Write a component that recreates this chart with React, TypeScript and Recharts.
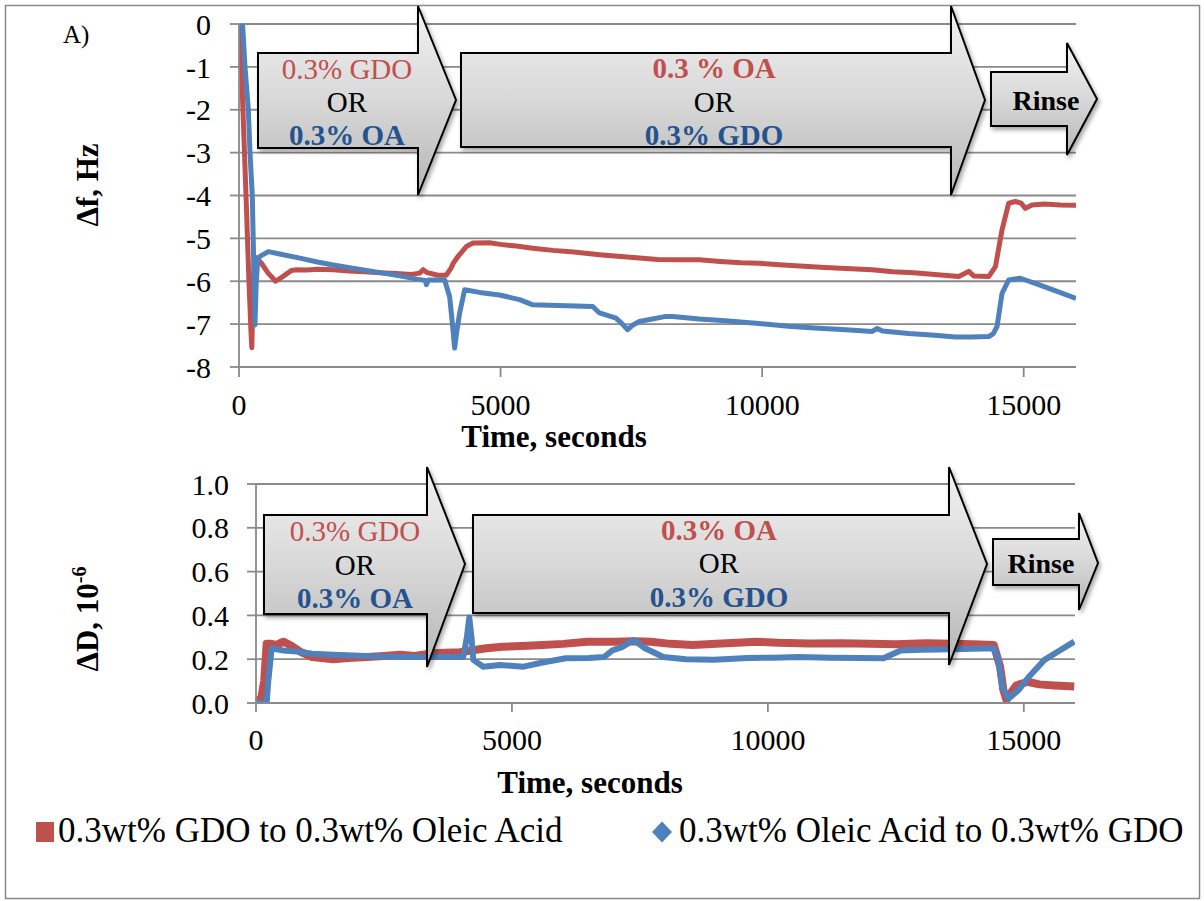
import React from "react";
import { LineChart, Line, XAxis, YAxis, CartesianGrid } from "recharts";

const FONT = "Times New Roman";
const RED = "#c0504d";
const BLUE = "#4f81bd";
const RED_TEXT = "#c0504d";
const BLUE_TEXT = "#24538f";
const GRID = "#8a8a8a";

// ---------- Top panel: Δf (Hz) ----------
const topXTicks = [0, 5000, 10000, 15000];
const topYTicks = [0, -1, -2, -3, -4, -5, -6, -7, -8];

const topRedTime = [0, 40, 90, 140, 190, 230, 245, 265, 290, 330, 430, 550, 700, 850, 1000, 1100, 1300, 1500, 1800, 2100, 2400, 2700, 3000, 3300, 3454, 3520, 3600, 3800, 3960, 4050, 4100, 4200, 4345, 4472, 4790, 5000, 5300, 5617, 6000, 6400, 6890, 7300, 7653, 8000, 8400, 8798, 9200, 9600, 9943, 10400, 10800, 11200, 11600, 12105, 12500, 12900, 13300, 13760, 13950, 14050, 14332, 14460, 14586, 14714, 14841, 14950, 15032, 15159, 15400, 15700, 16000];
const topRedValue = [0, -0.8, -2.5, -4.2, -6.0, -7.2, -7.55, -6.5, -5.6, -5.45, -5.58, -5.8, -6.0, -5.88, -5.75, -5.73, -5.74, -5.72, -5.73, -5.76, -5.78, -5.8, -5.82, -5.84, -5.81, -5.73, -5.8, -5.86, -5.86, -5.7, -5.57, -5.4, -5.19, -5.11, -5.1, -5.14, -5.18, -5.23, -5.28, -5.32, -5.38, -5.42, -5.46, -5.49, -5.5, -5.5, -5.54, -5.57, -5.58, -5.62, -5.65, -5.68, -5.7, -5.73, -5.78, -5.8, -5.84, -5.89, -5.77, -5.88, -5.89, -5.66, -4.8, -4.18, -4.14, -4.18, -4.3, -4.22, -4.2, -4.22, -4.23];

const topBlueTime = [0, 70, 115, 178, 210, 254, 280, 305, 330, 360, 400, 560, 800, 1164, 1500, 1800, 2200, 2754, 3100, 3400, 3560, 3582, 3620, 3931, 4027, 4080, 4122, 4160, 4218, 4313, 4600, 4981, 5363, 5617, 6254, 6762, 6890, 7208, 7330, 7430, 7530, 7653, 8162, 8288, 8798, 9300, 9880, 10500, 11000, 11600, 12105, 12200, 12300, 12800, 13300, 13696, 14000, 14332, 14420, 14491, 14586, 14714, 14937, 15100, 15286, 15600, 16000];
const topBlueValue = [0, -0.05, -1, -2, -3, -4, -5.5, -7.02, -6.0, -5.5, -5.42, -5.31, -5.37, -5.46, -5.55, -5.62, -5.7, -5.81, -5.88, -5.95, -5.98, -6.08, -5.97, -5.97, -6.36, -7.0, -7.56, -7.2, -6.74, -6.2, -6.26, -6.32, -6.43, -6.55, -6.57, -6.59, -6.74, -6.86, -7.0, -7.13, -7.02, -6.94, -6.82, -6.82, -6.88, -6.92, -6.98, -7.05, -7.09, -7.13, -7.17, -7.1, -7.16, -7.22, -7.26, -7.3, -7.3, -7.29, -7.22, -7.05, -6.28, -5.97, -5.93, -6.0, -6.08, -6.22, -6.4];

// ---------- Bottom panel: ΔD (10^-6) ----------
const botXTicks = [0, 5000, 10000, 15000];
const botYTicks = [0, 0.2, 0.4, 0.6, 0.8, 1.0];

const botRedTime = [0, 100, 160, 208, 300, 400, 534, 700, 859, 1100, 1510, 1800, 2162, 2500, 2812, 3100, 3463, 3700, 3984, 4200, 4500, 4812, 5200, 5600, 6000, 6467, 7000, 7400, 7709, 8100, 8535, 9000, 9400, 9777, 10200, 10800, 11433, 12000, 12500, 13088, 13600, 14000, 14412, 14537, 14600, 14660, 14742, 14850, 15074, 15300, 15600, 15985];
const botRedValue = [0.01, 0.02, 0.1, 0.27, 0.27, 0.265, 0.28, 0.26, 0.235, 0.21, 0.2, 0.205, 0.21, 0.215, 0.22, 0.215, 0.227, 0.23, 0.232, 0.24, 0.25, 0.257, 0.26, 0.265, 0.27, 0.28, 0.28, 0.282, 0.28, 0.27, 0.265, 0.27, 0.275, 0.28, 0.275, 0.272, 0.273, 0.27, 0.268, 0.273, 0.27, 0.268, 0.265, 0.166, 0.06, 0.014, 0.044, 0.08, 0.097, 0.085, 0.08, 0.075];

const botBlueTime = [0, 208, 240, 306, 534, 800, 1100, 1510, 2162, 2812, 3463, 4049, 4120, 4166, 4210, 4245, 4440, 4766, 5227, 5600, 6053, 6500, 6797, 6963, 7150, 7377, 7600, 7957, 8400, 8950, 9600, 10100, 10605, 11200, 11800, 12260, 12592, 13000, 13600, 14000, 14412, 14500, 14578, 14701, 14900, 15100, 15404, 15700, 15985];
const botBlueValue = [0, 0, 0.1, 0.25, 0.24, 0.235, 0.225, 0.22, 0.215, 0.21, 0.21, 0.21, 0.3, 0.39, 0.3, 0.197, 0.166, 0.174, 0.166, 0.185, 0.204, 0.206, 0.21, 0.24, 0.255, 0.288, 0.25, 0.21, 0.2, 0.197, 0.205, 0.207, 0.21, 0.207, 0.205, 0.204, 0.24, 0.243, 0.245, 0.248, 0.25, 0.2, 0.075, 0.02, 0.06, 0.12, 0.197, 0.24, 0.28];

const seriesNames = ["0.3wt% GDO to 0.3wt% Oleic Acid", "0.3wt% Oleic Acid to 0.3wt% GDO"];

const zip = (ts: number[], vs: number[]) => ts.map((t, i) => ({ t, v: vs[i] }));
const topRed = zip(topRedTime, topRedValue);
const topBlue = zip(topBlueTime, topBlueValue);
const botRed = zip(botRedTime, botRedValue);
const botBlue = zip(botBlueTime, botBlueValue);

const tickStyle = { fill: "#000", fontSize: 30, fontFamily: FONT, fontWeight: 400 };

type ArrowProps = {
  x1: number; y1: number; x2: number; y2: number;
  hTop: number; hBot: number; tipX: number; tipY: number;
};
function Arrow({ x1, y1, x2, y2, hTop, hBot, tipX, tipY }: ArrowProps) {
  const pts = [
    [x1, y1], [x2, y1], [x2, hTop], [tipX, tipY], [x2, hBot], [x2, y2], [x1, y2],
  ].map((p) => p.join(",")).join(" ");
  return (
    <polygon points={pts} fill="url(#arrowGrad)" stroke="#000" strokeWidth={2} strokeLinejoin="miter" filter="url(#arrowShadow)" />
  );
}

type TriProps = { cx: number; b1: number; b2: number; b3: number; top: string; topBold: boolean; bottom: string };
function ArrowText({ cx, b1, b2, b3, top, topBold, bottom }: TriProps) {
  return (
    <g>
      <text x={cx} y={b1} fontFamily={FONT} fontSize={29} textAnchor="middle" fill={RED_TEXT} fontWeight={topBold ? 700 : 400}>{top}</text>
      <text x={cx} y={b2} fontFamily={FONT} fontSize={29} fontWeight={400} textAnchor="middle" fill="#000">OR</text>
      <text x={cx} y={b3} fontFamily={FONT} fontSize={29} textAnchor="middle" fill={BLUE_TEXT} fontWeight={700}>{bottom}</text>
    </g>
  );
}

export default function App() {
  return (
    <div style={{ position: "absolute", left: 0, top: 0, width: 1204, height: 901, background: "#fff", fontFamily: "'Times New Roman', serif" }}>
      <div style={{ position: "absolute", left: 0, top: 0 }}>
        <LineChart width={1204} height={460} margin={{ top: 24, right: 128, bottom: 53, left: 179 }}>
          <CartesianGrid vertical={false} stroke={GRID} strokeWidth={1.8} />
          <XAxis dataKey="t" type="number" domain={[0, 16000]} ticks={topXTicks} interval={0} height={40}
            axisLine={{ stroke: GRID, strokeWidth: 1.8 }} tickLine={{ stroke: GRID, strokeWidth: 1.8 }} tickSize={10} tickMargin={17} tick={tickStyle} allowDataOverflow />
          <YAxis type="number" domain={[-8, 0]} ticks={topYTicks} interval={0} width={60}
            axisLine={{ stroke: GRID, strokeWidth: 1.8 }} tickLine={{ stroke: GRID, strokeWidth: 1.8 }} tickSize={9} tickMargin={19} tick={tickStyle} allowDataOverflow />
          <Line data={topRed} dataKey="v" name={seriesNames[0]} stroke={RED} strokeWidth={5} dot={false} activeDot={false} type="linear" isAnimationActive={false} strokeLinejoin="round" />
          <Line data={topBlue} dataKey="v" name={seriesNames[1]} stroke={BLUE} strokeWidth={5} dot={false} activeDot={false} type="linear" isAnimationActive={false} strokeLinejoin="round" />
        </LineChart>
      </div>
      <div style={{ position: "absolute", left: 0, top: 460 }}>
        <LineChart width={1204} height={340} margin={{ top: 24, right: 129, bottom: 57, left: 196 }}>
          <CartesianGrid vertical={false} stroke={GRID} strokeWidth={1.8} />
          <XAxis dataKey="t" type="number" domain={[0, 16000]} ticks={botXTicks} interval={0} height={40}
            axisLine={{ stroke: GRID, strokeWidth: 1.8 }} tickLine={{ stroke: GRID, strokeWidth: 1.8 }} tickSize={9} tickMargin={17} tick={tickStyle} allowDataOverflow />
          <YAxis type="number" domain={[0, 1]} ticks={botYTicks} interval={0} width={60}
            tickFormatter={(v: number) => v.toFixed(1)}
            axisLine={{ stroke: GRID, strokeWidth: 1.8 }} tickLine={{ stroke: GRID, strokeWidth: 1.8 }} tickSize={9} tickMargin={18} tick={tickStyle} allowDataOverflow />
          <Line data={botRed} dataKey="v" name={seriesNames[0]} stroke={RED} strokeWidth={8} dot={false} activeDot={false} type="linear" isAnimationActive={false} strokeLinejoin="round" />
          <Line data={botBlue} dataKey="v" name={seriesNames[1]} stroke={BLUE} strokeWidth={6} dot={false} activeDot={false} type="linear" isAnimationActive={false} strokeLinejoin="round" />
        </LineChart>
      </div>

      <svg width={1204} height={901} style={{ position: "absolute", left: 0, top: 0, pointerEvents: "none" }}>
        <defs>
          <linearGradient id="arrowGrad" x1="0" y1="0" x2="0" y2="1">
            <stop offset="0" stopColor="#f2f2f2" />
            <stop offset="0.5" stopColor="#d8d8d8" />
            <stop offset="1" stopColor="#b6b6b6" />
          </linearGradient>
          <filter id="arrowShadow" x="-10%" y="-10%" width="130%" height="130%">
            <feDropShadow dx={2} dy={3} stdDeviation={2} floodColor="#000" floodOpacity={0.35} />
          </filter>
        </defs>
        <rect x={5.5} y={5.5} width={1194} height={893} fill="none" stroke="#8a8a8a" strokeWidth={1.5} />

        <text x={63} y={43} fontFamily={FONT} fontWeight={400} fontSize={25} fill="#000">A)</text>

        {/* Top arrows */}
        <Arrow x1={258} y1={53} x2={418} y2={148} hTop={6} hBot={195} tipX={456} tipY={100} />
        <Arrow x1={461} y1={53} x2={951} y2={147} hTop={6} hBot={195} tipX={985} tipY={100} />
        <Arrow x1={991} y1={72} x2={1067} y2={126} hTop={43} hBot={155} tipX={1097} tipY={99} />
        <ArrowText cx={347} b1={79} b2={112} b3={145} top="0.3% GDO" topBold={false} bottom="0.3% OA" />
        <ArrowText cx={714} b1={78} b2={112} b3={145} top="0.3 % OA" topBold={true} bottom="0.3% GDO" />
        <text x={1046} y={110} fontFamily={FONT} fontSize={28} fontWeight={700} textAnchor="middle" fill="#000">Rinse</text>

        {/* Bottom arrows */}
        <Arrow x1={264} y1={515} x2={427} y2={614} hTop={467} hBot={667} tipX={465} tipY={564} />
        <Arrow x1={473} y1={515} x2={949} y2={613} hTop={467} hBot={665} tipX={987} tipY={564} />
        <Arrow x1={993} y1={539} x2={1079} y2={585} hTop={513} hBot={610} tipX={1098} tipY={563} />
        <ArrowText cx={355} b1={541} b2={575} b3={608} top="0.3% GDO" topBold={false} bottom="0.3% OA" />
        <ArrowText cx={719} b1={540} b2={573} b3={607} top="0.3% OA" topBold={true} bottom="0.3% GDO" />
        <text x={1041} y={573} fontFamily={FONT} fontSize={28} fontWeight={700} textAnchor="middle" fill="#000">Rinse</text>

        {/* Axis titles */}
        <text x={98} y={185} transform="rotate(-90 98 185)" fontFamily={FONT} fontSize={31} fontWeight={700} textAnchor="middle" fill="#000">Δf, Hz</text>
        <text x={98} y={619} transform="rotate(-90 98 619)" fontFamily={FONT} fontSize={31} fontWeight={700} textAnchor="middle" fill="#000">
          ΔD, 10<tspan fontSize={20} dy={-12}>-6</tspan>
        </text>
        <text x={554} y={447} fontFamily={FONT} fontSize={31} fontWeight={700} textAnchor="middle" fill="#000">Time, seconds</text>
        <text x={590} y={793} fontFamily={FONT} fontSize={31} fontWeight={700} textAnchor="middle" fill="#000">Time, seconds</text>

        {/* Legend */}
        <rect x={36} y={822} width={18} height={20} fill={RED} />
        <text x={58} y={842} fontFamily={FONT} fontWeight={400} fontSize={35} fill="#000">{seriesNames[0]}</text>
        <polygon points="662,821.5 672,832 662,842.5 652,832" fill={BLUE} />
        <text x={679} y={842} fontFamily={FONT} fontWeight={400} fontSize={35} fill="#000">{seriesNames[1]}</text>
      </svg>
    </div>
  );
}
